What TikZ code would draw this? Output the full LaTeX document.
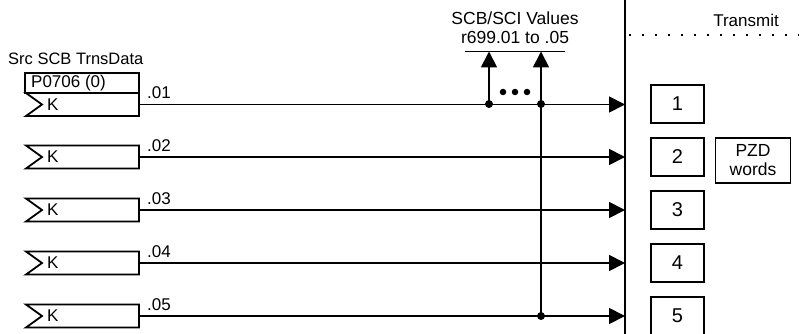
\documentclass[tikz,border=0pt]{standalone}
\usepackage{fontspec}
\setmainfont{Liberation Sans}
\usetikzlibrary{arrows.meta}
\begin{document}
\begin{tikzpicture}[x=1pt,y=-1pt,
  lw/.style={line width=1.8pt},
  txt/.style={font=\fontsize{17}{19}\selectfont, inner sep=0pt},
  numbox/.style={draw, line width=1.8pt, minimum width=53pt, minimum height=38pt, font=\fontsize{20}{22}\selectfont, inner sep=0pt},
  sig/.style={line width=1.8pt, -{Triangle[length=16pt,width=16pt]}},
  jdot/.style={circle, fill=black, inner sep=0pt, minimum size=8pt}
]
\useasboundingbox (0,0) rectangle (799,334);

% title of source
\node[txt, anchor=west, font=\fontsize{16.5}{18}\selectfont] (src) at (8,59) {Src SCB TrnsData};
% P0706 box
\draw[lw] (25,73) rectangle (139,93);
\node[txt, anchor=west] (par) at (31,83) {P0706 (0)};

% K boxes
\foreach \i/\y in {1/104.5,2/157,3/210,4/263,5/316} {
  \draw[lw] (139,\y-11.5) -- (26,\y-11.5) -- (42,\y) -- (26,\y+11.5) -- (139,\y+11.5) -- cycle;
  \node[txt, anchor=west] (k\i) at (47,\y) {K};
  \coordinate (o\i) at (139,\y);
  \coordinate (b\i) at (625,\y);
  \node[txt, anchor=base west] (l\i) at (147,\y-6) {.0\i};
}

% bus
\coordinate (bt) at (625,0);
\coordinate (bb) at (625,334);
\draw[lw] (bt) -- (bb);
\coordinate (dr) at (799,35);
\draw[line width=1.8pt, dash pattern=on 2pt off 11pt] (629,35) -- (dr);
\node[txt] (tr) at (746,20) {Transmit};

% signal arrows
\foreach \i in {1,...,5} {
  \draw[sig] (o\i) -- (b\i);
}

% SCB/SCI values
\node[txt, font=\fontsize{17.5}{19}\selectfont] (v1) at (515,18) {SCB/SCI Values};
\node[txt, font=\fontsize{17.5}{19}\selectfont] (v2) at (515,37) {r699.01 to .05};
\coordinate (hl) at (465,51.5);
\coordinate (hr) at (565,51.5);
\draw[lw] (hl) -- (hr);
\node[jdot] (j1) at (489,104) {};
\node[jdot] (j2) at (541,104) {};
\node[jdot] (j5) at (541,316) {};
\coordinate (t1) at (489,51.5);
\coordinate (t2) at (541,51.5);
\draw[sig] (j1.center) -- (t1);
\draw[sig] (j5.center) -- (t2);
\foreach \x/\n in {503/a,515/b,527/c} {
  \node[circle, fill=black, inner sep=0pt, minimum size=6.5pt] (e\n) at (\x,92) {};
}

% number boxes
\foreach \i/\y in {1/104,2/157,3/210,4/263,5/316} {
  \node[numbox] (n\i) at (677.5,\y) {\i};
}
\node[draw, line width=1.8pt, minimum width=75pt, minimum height=45pt, inner sep=0pt, align=center, font=\fontsize{17.5}{19}\selectfont] (pzd) at (753,160.5) {PZD\\words};
\end{tikzpicture}
\end{document}
